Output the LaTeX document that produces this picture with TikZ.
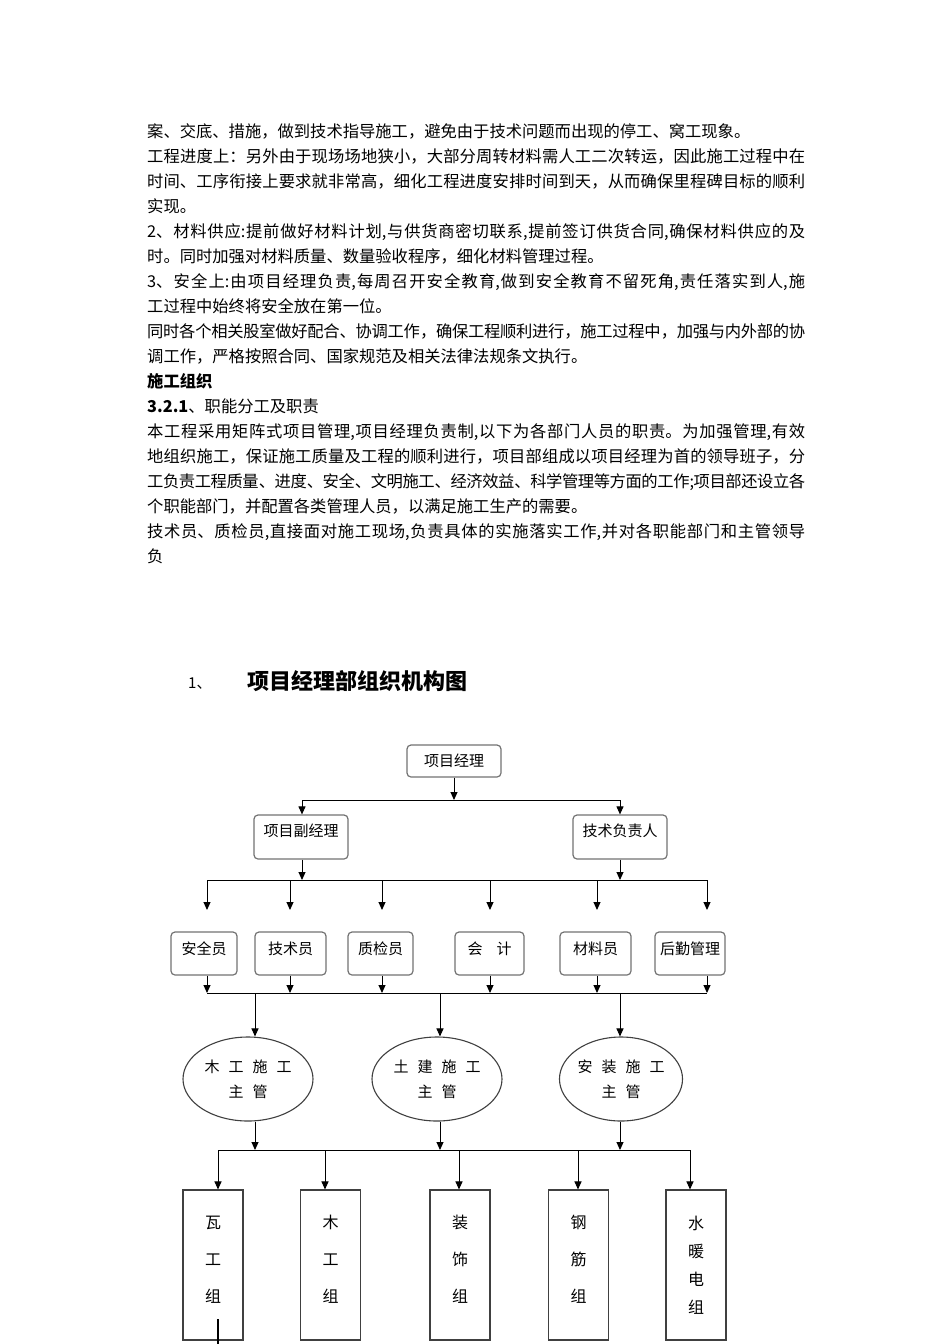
\documentclass[tikz,border=0pt]{standalone}
\usepackage{fontspec}
\setmainfont{Noto Sans CJK SC}
\XeTeXlinebreaklocale "zh"
\XeTeXlinebreakskip=0pt plus 3pt minus 0.6pt
\usetikzlibrary{shapes,arrows.meta}
\tikzstyle{para} = [anchor=base west, inner sep=0pt, text width=658pt, align=justify,
    font=\fontsize{16.3}{25}\selectfont]
\tikzstyle{rbox} = [rectangle, draw=black!55, line width=1.2pt, rounded corners=4pt,
    fill=white, inner sep=0pt, font=\fontsize{15}{15}\selectfont]
\tikzstyle{ebox} = [ellipse, draw=black!75, line width=1.1pt, minimum width=130pt,
    minimum height=84pt, inner sep=0pt, align=center, font=\fontsize{15}{25}\selectfont]
\tikzstyle{gbox} = [rectangle, draw=black!75, line width=1.1pt, minimum width=60pt,
    minimum height=150pt, inner sep=0pt, align=center]
\tikzstyle{line} = [draw, line width=1pt]
\tikzstyle{arr} = [draw, line width=1pt, -{Triangle[length=8pt,width=7pt]}]

\begin{document}
\begin{tikzpicture}[x=1pt,y=-1pt]
\useasboundingbox[fill=white] (0,0) rectangle (950,1344);

\node[para] (p1) at (147,137) {案、交底、措施，做到技术指导施工，避免由于技术问题而出现的停工、窝工现象。};
\node[para] (p2) at (147,162) {工程进度上：另外由于现场场地狭小，大部分周转材料需人工二次转运，因此施工过程中在\linebreak
    时间、工序衔接上要求就非常高，细化工程进度安排时间到天，从而确保里程碑目标的顺利\linebreak 实现。};
\node[para] (p3) at (147,237) {2、材料供应:提前做好材料计划,与供货商密切联系,提前签订供货合同,确保材料供应的及\linebreak
    时。同时加强对材料质量、数量验收程序，细化材料管理过程。};
\node[para] (p4) at (147,287) {3、安全上:由项目经理负责,每周召开安全教育,做到安全教育不留死角,责任落实到人,施\linebreak
    工过程中始终将安全放在第一位。};
\node[para] (p5) at (147,337) {同时各个相关股室做好配合、协调工作，确保工程顺利进行，施工过程中，加强与内外部的协\linebreak
    调工作，严格按照合同、国家规范及相关法律法规条文执行。};
\node[para] (p6) at (147,387) {\textbf{施工组织}};
\node[para] (p7) at (147,412) {\textbf{3.2.1}、职能分工及职责};
\node[para] (p8) at (147,437) {本工程采用矩阵式项目管理,项目经理负责制,以下为各部门人员的职责。为加强管理,有效\linebreak
    地组织施工，保证施工质量及工程的顺利进行，项目部组成以项目经理为首的领导班子，分\linebreak
    工负责工程质量、进度、安全、文明施工、经济效益、科学管理等方面的工作;项目部还设立各\linebreak
    个职能部门，并配置各类管理人员，以满足施工生产的需要。};
\node[para] (p9) at (147,537) {技术员、质检员,直接面对施工现场,负责具体的实施落实工作,并对各职能部门和主管领导\linebreak 负};

\node[anchor=base west, inner sep=0pt, font=\fontsize{15}{15}\selectfont] (num) at (188,688) {1、};
\node[anchor=base west, inner sep=0pt, font=\fontsize{22}{22}\selectfont\bfseries] (title) at (247,689) {项目经理部组织机构图};

\node[rbox, minimum width=94pt, text height=21.5pt, text depth=10.5pt] (pm) at (454,761) {项目经理};
\node[rbox, minimum width=94pt, text height=21.5pt, text depth=22.5pt] (dpm) at (301,837) {项目副经理};
\node[rbox, minimum width=94pt, text height=21.5pt, text depth=22.5pt] (tech) at (620,837) {技术负责人};

\node[rbox, minimum width=66pt, text height=22.5pt, text depth=20.5pt] (safe) at (204,953.5) {安全员};
\node[rbox, minimum width=71pt, text height=22.5pt, text depth=20.5pt] (techn) at (290.5,953.5) {技术员};
\node[rbox, minimum width=65pt, text height=22.5pt, text depth=20.5pt] (qual) at (380.5,953.5) {质检员};
\node[rbox, minimum width=69pt, text height=22.5pt, text depth=20.5pt] (acct) at (489.5,953.5) {会\hspace{14pt}计};
\node[rbox, minimum width=71pt, text height=22.5pt, text depth=20.5pt] (matl) at (595.5,953.5) {材料员};
\node[rbox, minimum width=70pt, text height=22.5pt, text depth=20.5pt] (logi) at (690,953.5) {后勤管理};

\node[ebox] (wood) at (248,1079) {木\hspace{9pt}工\hspace{9pt}施\hspace{9pt}工\\主\hspace{9pt}管};
\node[ebox] (civil) at (437,1079) {土\hspace{9pt}建\hspace{9pt}施\hspace{9pt}工\\主\hspace{9pt}管};
\node[ebox, minimum width=122pt] (inst) at (621,1079) {安\hspace{9pt}装\hspace{9pt}施\hspace{9pt}工\\主\hspace{9pt}管};

\node[gbox, font=\fontsize{16}{37}\selectfont] (tile) at (213,1265) {瓦\\工\\组\\[-25pt]};
\node[gbox, font=\fontsize{16}{37}\selectfont] (carp) at (330.5,1265) {木\\工\\组\\[-25pt]};
\node[gbox, font=\fontsize{16}{37}\selectfont] (deco) at (460,1265) {装\\饰\\组\\[-25pt]};
\node[gbox, font=\fontsize{16}{37}\selectfont] (rebar) at (578.5,1265) {钢\\筋\\组\\[-25pt]};
\node[gbox, font=\fontsize{16}{28}\selectfont] (plumb) at (696,1265) {水\\暖\\电\\组};

\coordinate (b1) at (454,800);
\coordinate (b1l) at (302,800);
\coordinate (b1r) at (620,800);
\draw[arr] (pm) -- (b1);
\draw[line] (b1l) -- (b1r);
\draw[arr] (b1l) -- (b1l |- dpm.north);
\draw[arr] (b1r) -- (b1r |- tech.north);

\coordinate (b2l) at (207,880);
\coordinate (b2r) at (707,880);
\draw[arr] (dpm.south -| b1l) -- (b1l |- b2l);
\draw[arr] (tech.south -| b1r) -- (b1r |- b2l);
\draw[line] (b2l) -- (b2r);
\draw[arr] (b2l) -- ++(0,30);
\draw[arr] (b2l -| 290,0) -- ++(0,30);
\draw[arr] (b2l -| 382,0) -- ++(0,30);
\draw[arr] (b2l -| 490,0) -- ++(0,30);
\draw[arr] (b2l -| 597,0) -- ++(0,30);
\draw[arr] (b2r) -- ++(0,30);

\coordinate (b3l) at (207,993);
\coordinate (b3r) at (707,993);
\draw[line] (b3l) -- (b3r);
\draw[arr] (safe.south -| b3l) -- (b3l);
\draw[arr] (techn.south -| 290,0) -- (b3l -| 290,0);
\draw[arr] (qual.south -| 382,0) -- (b3l -| 382,0);
\draw[arr] (acct.south -| 490,0) -- (b3l -| 490,0);
\draw[arr] (matl.south -| 597,0) -- (b3l -| 597,0);
\draw[arr] (logi.south -| b3r) -- (b3r);

\coordinate (c1) at (255,993);
\coordinate (c2) at (440,993);
\coordinate (c3) at (620,993);
\draw[arr] (c1) -- (c1 |- wood.north);
\draw[arr] (c2) -- (c2 |- civil.north);
\draw[arr] (c3) -- (c3 |- inst.north);

\coordinate (b4l) at (218,1150);
\coordinate (b4r) at (690,1150);
\draw[arr] (wood.south -| c1) -- (c1 |- b4l);
\draw[arr] (civil.south -| c2) -- (c2 |- b4l);
\draw[arr] (inst.south -| c3) -- (c3 |- b4l);
\draw[line] (b4l) -- (b4r);
\draw[arr] (b4l) -- (b4l |- tile.north);
\draw[arr] (b4l -| 325,0) -- (325,0 |- carp.north);
\draw[arr] (b4l -| 459,0) -- (459,0 |- deco.north);
\draw[arr] (b4l -| 578,0) -- (578,0 |- rebar.north);
\draw[arr] (b4r) -- (b4r |- plumb.north);

\coordinate (cut) at (218,1344);
\draw[line width=2pt] (cut) -- ++(0,-25);
\end{tikzpicture}
\end{document}
